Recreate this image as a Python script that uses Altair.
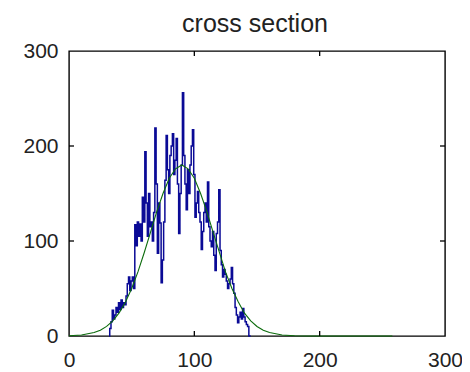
import altair as alt
import pandas as pd

title_text = ["cross section"]

# Blue noisy profile (one value per integer position)
blue_x = list(range(32, 146))
blue_y = [0, 8, 15, 27, 18, 22, 30, 25, 35, 28,
          38, 30, 35, 33, 42, 55, 62, 48, 58, 62,
          50, 117, 95, 120, 105, 118, 100, 146, 120, 194,
          140, 105, 150, 115, 120, 100, 130, 219, 160, 87,
          140, 119, 56, 80, 120, 164, 211, 175, 150, 190,
          200, 213, 170, 185, 208, 160, 108, 150, 180, 256,
          190, 160, 133, 175, 150, 180, 200, 217, 170, 125,
          140, 152, 130, 120, 91, 110, 130, 140, 120, 162,
          115, 100, 94, 110, 85, 69, 108, 120, 154, 90,
          75, 62, 70, 65, 58, 50, 55, 60, 72, 55,
          45, 30, 22, 14, 20, 25, 18, 29, 20, 15,
          12, 10, 0, 0]

# Green smooth fitted curve
green_x = [0, 10, 20, 25, 30, 35, 40, 45, 50, 55, 60, 65, 70, 75, 80, 85, 90,
           95, 100, 105, 110, 115, 120, 125, 130, 135, 140, 145, 150, 155, 160,
           170, 180, 190, 258]
green_y = [0.3, 1.1, 3.6, 6.1, 10.1, 16, 24.4, 35.6, 50, 67.5, 87.6, 109, 131,
           150, 166, 176, 180, 176, 166, 150, 131, 109, 88, 67, 50, 36, 24, 16,
           10, 6, 3.6, 1.1, 0.3, 0, 0]

axis_values = [0, 100, 200, 300]
inner_ticks = [100, 200]

df_blue = pd.DataFrame({"x": blue_x, "y": blue_y})
df_green = pd.DataFrame({"x": green_x, "y": green_y})
df_ticks = pd.DataFrame({"x": inner_ticks, "y": inner_ticks})
df_title = pd.DataFrame({"t": title_text})

xs = alt.Scale(domain=[0, 300], nice=False, zero=False)
ys = alt.Scale(domain=[0, 300], nice=False)

common = dict(values=axis_values, grid=False, domain=False, ticks=False,
              labelFont="Liberation Sans", labelFontSize=21, labelColor="#222",
              labelFlush=False, labelOverlap=False, format="d")
xaxis = alt.Axis(labelPadding=13, **common)
yaxis = alt.Axis(labelPadding=11, **common)


def X():
    return alt.X("x:Q", scale=xs, axis=xaxis, title=None)


def Y():
    return alt.Y("y:Q", scale=ys, axis=yaxis, title=None)


blue = alt.Chart(df_blue).mark_line(interpolate="step", color="#0a0a96", strokeWidth=1.5).encode(
    x=X(), y=Y())

green = alt.Chart(df_green).mark_line(color="#0b6b0b", strokeWidth=1.1).encode(
    x=X(), y=Y())

tick_len = 5
rule = dict(color="black", strokeWidth=1.3)
xb = alt.Chart(df_ticks).mark_rule(**rule).encode(
    x=X(), y=alt.value(285), y2=alt.value(285 - tick_len))
xt = alt.Chart(df_ticks).mark_rule(**rule).encode(
    x=X(), y=alt.value(0), y2=alt.value(tick_len))
yl = alt.Chart(df_ticks).mark_rule(**rule).encode(
    y=Y(), x=alt.value(0), x2=alt.value(tick_len))
yr = alt.Chart(df_ticks).mark_rule(**rule).encode(
    y=Y(), x=alt.value(376), x2=alt.value(376 - tick_len))

title = alt.Chart(df_title).mark_text(
    font="Liberation Sans", fontSize=25, color="#222", align="center", baseline="middle"
).encode(text="t:N", x=alt.value(186), y=alt.value(-27))

chart = alt.layer(blue, green, xb, xt, yl, yr, title).properties(
    width=376, height=285,
    autosize=alt.AutoSizeParams(type="none"),
    padding={"left": 61, "top": 43, "right": 17, "bottom": 36},
    background="white",
).configure_view(stroke="black", strokeWidth=1.4)

chart.save("out.html", embed_options={"renderer": "svg", "actions": False})
